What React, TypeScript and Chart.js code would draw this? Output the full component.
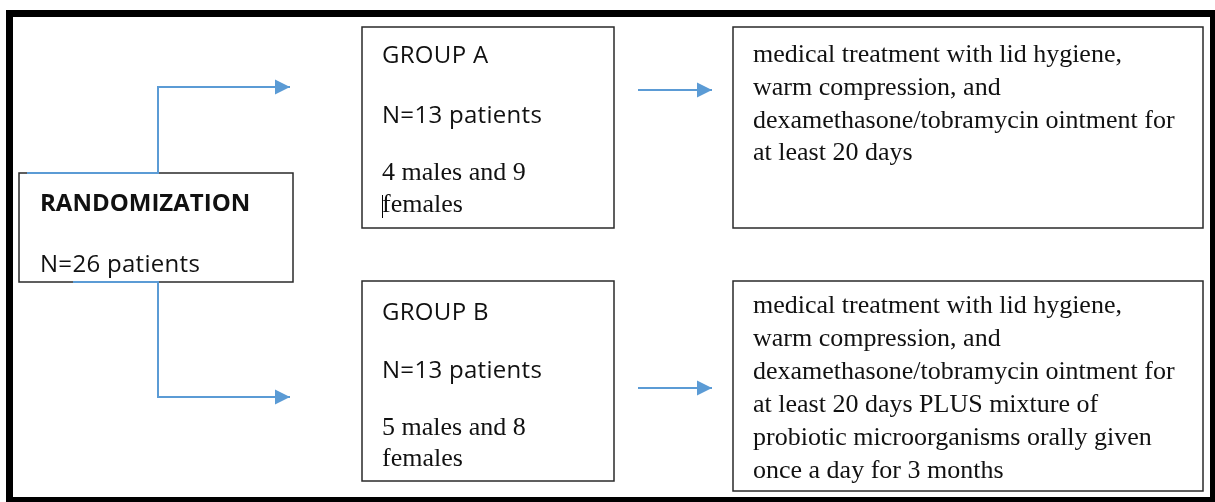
import React, { useEffect, useRef } from "react";
import { Chart, registerables } from "chart.js";

Chart.register(...registerables);

// ---- Text content of the flow chart ----
const randomizationLines = ["RANDOMIZATION", "N=26 patients"];
const groupALines = ["GROUP A", "N=13 patients", "4 males and 9", "females"];
const groupBLines = ["GROUP B", "N=13 patients", "5 males and 8", "females"];
const treatmentALines = [
  "medical treatment with lid hygiene,",
  "warm compression, and",
  "dexamethasone/tobramycin ointment for",
  "at least 20 days",
];
const treatmentBLines = [
  "medical treatment with lid hygiene,",
  "warm compression, and",
  "dexamethasone/tobramycin ointment for",
  "at least 20 days PLUS mixture of",
  "probiotic microorganisms orally given",
  "once a day for 3 months",
];

// ---- Connector paths (data units of the chart's x/y scales) ----
const connectorToA = [
  { x: 27, y: 173 },
  { x: 158, y: 173 },
  { x: 158, y: 87 },
  { x: 290, y: 87 },
];
const connectorToB = [
  { x: 73, y: 282 },
  { x: 158, y: 282 },
  { x: 158, y: 397 },
  { x: 290, y: 397 },
];
const arrowAtoTreatment = [
  { x: 638, y: 90 },
  { x: 712, y: 90 },
];
const arrowBtoTreatment = [
  { x: 638, y: 388 },
  { x: 712, y: 388 },
];

// ---- Layout / style ----
const W = 1215;
const H = 502;
const BLUE = "#5B9BD5";
const INK = "#111";
const SANS = "'Open Sans', Lato, sans-serif";
const SERIF = "'Liberation Serif', 'DejaVu Serif', serif";

type Node = {
  lines: string[];
  box: [number, number, number, number];
  x: number;
  baselines: number[];
  fonts: string[];
  spacing: number[];
};

const sansBold = `bold 24px ${SANS}`;
const sansReg = `24px ${SANS}`;
const serifReg = `26px ${SERIF}`;

const nodes: Node[] = [
  {
    lines: randomizationLines,
    box: [19, 173, 293, 282],
    x: 40,
    baselines: [211, 272],
    fonts: [sansBold, sansReg],
    spacing: [0, 0.3],
  },
  {
    lines: groupALines,
    box: [362, 27, 614, 228],
    x: 382,
    baselines: [63, 123, 180, 212],
    fonts: [sansReg, sansReg, serifReg, serifReg],
    spacing: [0.3, 0.3, 0, 0],
  },
  {
    lines: groupBLines,
    box: [362, 281, 614, 481],
    x: 382,
    baselines: [320, 378, 435, 466],
    fonts: [sansReg, sansReg, serifReg, serifReg],
    spacing: [0.3, 0.3, 0, 0],
  },
  {
    lines: treatmentALines,
    box: [733, 27, 1203, 228],
    x: 753,
    baselines: [62, 95, 128, 160],
    fonts: [serifReg, serifReg, serifReg, serifReg],
    spacing: [0, 0, 0, 0],
  },
  {
    lines: treatmentBLines,
    box: [733, 281, 1203, 491],
    x: 753,
    baselines: [313, 346, 379, 412, 445, 478],
    fonts: [serifReg, serifReg, serifReg, serifReg, serifReg, serifReg],
    spacing: [0, 0, 0, 0, 0, 0],
  },
];

const flowPlugin = {
  id: "flowchart",
  beforeDatasetsDraw(chart: any) {
    const ctx: CanvasRenderingContext2D = chart.ctx;
    const xs = chart.scales.x;
    const ys = chart.scales.y;
    const px = (v: number) => xs.getPixelForValue(v);
    const py = (v: number) => ys.getPixelForValue(v);
    ctx.save();
    // outer frame
    ctx.strokeStyle = "#000";
    ctx.lineWidth = 7;
    ctx.strokeRect(px(9.5), py(13.5), px(1213.5) - px(9.5), py(500.5) - py(13.5));
    // boxes
    ctx.strokeStyle = "#2a2a2a";
    ctx.lineWidth = 1.5;
    for (const n of nodes) {
      const [x0, y0, x1, y1] = n.box;
      ctx.strokeRect(px(x0), py(y0), px(x1) - px(x0), py(y1) - py(y0));
    }
    ctx.restore();
  },
  afterDatasetsDraw(chart: any) {
    const ctx: CanvasRenderingContext2D = chart.ctx;
    const xs = chart.scales.x;
    const ys = chart.scales.y;
    const px = (v: number) => xs.getPixelForValue(v);
    const py = (v: number) => ys.getPixelForValue(v);
    ctx.save();
    // arrow heads at end of every connector dataset
    chart.data.datasets.forEach((ds: any, i: number) => {
      const meta = chart.getDatasetMeta(i);
      const pts = meta.data;
      if (pts.length < 2) return;
      const a = pts[pts.length - 2];
      const b = pts[pts.length - 1];
      const ang = Math.atan2(b.y - a.y, b.x - a.x);
      const len = 15;
      const half = 7.5;
      ctx.fillStyle = ds.borderColor;
      ctx.beginPath();
      ctx.moveTo(b.x, b.y);
      ctx.lineTo(
        b.x - len * Math.cos(ang) + half * Math.sin(ang),
        b.y - len * Math.sin(ang) - half * Math.cos(ang)
      );
      ctx.lineTo(
        b.x - len * Math.cos(ang) - half * Math.sin(ang),
        b.y - len * Math.sin(ang) + half * Math.cos(ang)
      );
      ctx.closePath();
      ctx.fill();
    });
    // texts
    ctx.fillStyle = INK;
    ctx.textAlign = "left";
    ctx.textBaseline = "alphabetic";
    for (const n of nodes) {
      n.lines.forEach((t, i) => {
        ctx.font = n.fonts[i];
        (ctx as any).letterSpacing = `${n.spacing[i]}px`;
        ctx.fillText(t, px(n.x), py(n.baselines[i]));
      });
    }
    (ctx as any).letterSpacing = "0px";
    // text cursor mark before "females" in group A
    ctx.strokeStyle = "#000";
    ctx.lineWidth = 1;
    ctx.beginPath();
    ctx.moveTo(px(382) + 0.5, py(195));
    ctx.lineTo(px(382) + 0.5, py(218));
    ctx.stroke();
    ctx.restore();
  },
};

export default function App() {
  const ref = useRef<HTMLCanvasElement>(null);
  useEffect(() => {
    document.body.style.margin = "0";
    const connectors = [connectorToA, connectorToB, arrowAtoTreatment, arrowBtoTreatment];
    const chart = new Chart(ref.current!, {
      type: "scatter",
      data: {
        datasets: connectors.map((c, i) => ({
          label: `connector ${i + 1}`,
          data: c,
          showLine: true,
          borderColor: BLUE,
          backgroundColor: BLUE,
          borderWidth: 2,
          pointRadius: 0,
          pointHoverRadius: 0,
          tension: 0,
          fill: false,
          borderJoinStyle: "miter" as const,
        })),
      },
      options: {
        responsive: false,
        animation: false,
        events: [],
        layout: { padding: 0 },
        plugins: {
          legend: { display: false },
          tooltip: { enabled: false },
        },
        scales: {
          x: { type: "linear", min: 0, max: W, display: false },
          y: { type: "linear", min: 0, max: H, reverse: true, display: false },
        },
      },
      plugins: [flowPlugin],
    });
    return () => chart.destroy();
  }, []);
  return (
    <div style={{ width: W, height: H, background: "#fff" }}>
      <canvas ref={ref} width={W} height={H} style={{ display: "block" }} />
    </div>
  );
}
